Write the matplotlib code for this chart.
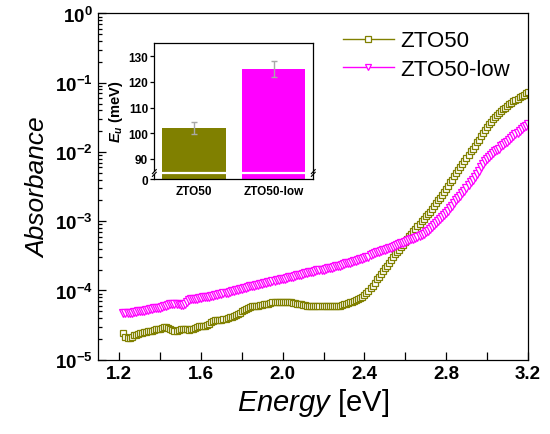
import numpy as np
import matplotlib
matplotlib.use("Agg")
import matplotlib.pyplot as plt
from matplotlib.ticker import FixedLocator, FuncFormatter, MultipleLocator, LogLocator, NullFormatter

plt.rcParams["font.family"] = ["Liberation Sans", "DejaVu Sans"]
plt.rcParams["mathtext.fontset"] = "custom"
plt.rcParams["mathtext.rm"] = "Liberation Sans"
plt.rcParams["mathtext.it"] = "Liberation Sans:italic"
plt.rcParams["mathtext.bf"] = "Liberation Sans:bold"
plt.rcParams["mathtext.bfit"] = "Liberation Sans:italic:bold"

# photon energy (eV)
energy = [1.22, 1.23, 1.24, 1.25, 1.26, 1.27, 1.28, 1.29, 1.30, 1.31,
          1.32, 1.33, 1.34, 1.35, 1.36, 1.37, 1.38, 1.39, 1.40, 1.41,
          1.42, 1.43, 1.44, 1.45, 1.46, 1.47, 1.48, 1.49, 1.50, 1.51,
          1.52, 1.53, 1.54, 1.55, 1.56, 1.57, 1.58, 1.59, 1.60, 1.61,
          1.62, 1.63, 1.64, 1.65, 1.66, 1.67, 1.68, 1.69, 1.70, 1.71,
          1.72, 1.73, 1.74, 1.75, 1.76, 1.77, 1.78, 1.79, 1.80, 1.81,
          1.82, 1.83, 1.84, 1.85, 1.86, 1.87, 1.88, 1.89, 1.90, 1.91,
          1.92, 1.93, 1.94, 1.95, 1.96, 1.97, 1.98, 1.99, 2.00, 2.01,
          2.02, 2.03, 2.04, 2.05, 2.06, 2.07, 2.08, 2.09, 2.10, 2.11,
          2.12, 2.13, 2.14, 2.15, 2.16, 2.17, 2.18, 2.19, 2.20, 2.21,
          2.22, 2.23, 2.24, 2.25, 2.26, 2.27, 2.28, 2.29, 2.30, 2.31,
          2.32, 2.33, 2.34, 2.35, 2.36, 2.37, 2.38, 2.39, 2.40, 2.41,
          2.42, 2.43, 2.44, 2.45, 2.46, 2.47, 2.48, 2.49, 2.50, 2.51,
          2.52, 2.53, 2.54, 2.55, 2.56, 2.57, 2.58, 2.59, 2.60, 2.61,
          2.62, 2.63, 2.64, 2.65, 2.66, 2.67, 2.68, 2.69, 2.70, 2.71,
          2.72, 2.73, 2.74, 2.75, 2.76, 2.77, 2.78, 2.79, 2.80, 2.81,
          2.82, 2.83, 2.84, 2.85, 2.86, 2.87, 2.88, 2.89, 2.90, 2.91,
          2.92, 2.93, 2.94, 2.95, 2.96, 2.97, 2.98, 2.99, 3.00, 3.01,
          3.02, 3.03, 3.04, 3.05, 3.06, 3.07, 3.08, 3.09, 3.10, 3.11,
          3.12, 3.13, 3.14, 3.15, 3.16, 3.17, 3.18, 3.19, 3.20]

# log10(absorbance)
log_zto50 = [-4.62, -4.67, -4.69, -4.68, -4.67, -4.65, -4.64, -4.63, -4.62, -4.61,
             -4.60, -4.60, -4.59, -4.58, -4.58, -4.57, -4.56, -4.56, -4.55, -4.54,
             -4.53, -4.53, -4.54, -4.56, -4.57, -4.58, -4.58, -4.57, -4.56, -4.55,
             -4.55, -4.56, -4.57, -4.56, -4.55, -4.54, -4.53, -4.52, -4.52, -4.52,
             -4.51, -4.50, -4.48, -4.46, -4.44, -4.43, -4.43, -4.42, -4.42, -4.41,
             -4.41, -4.40, -4.39, -4.38, -4.37, -4.36, -4.34, -4.32, -4.30, -4.28,
             -4.27, -4.25, -4.24, -4.23, -4.23, -4.22, -4.22, -4.21, -4.21, -4.20,
             -4.20, -4.19, -4.18, -4.17, -4.16, -4.16, -4.16, -4.16, -4.16, -4.16,
             -4.17, -4.17, -4.17, -4.18, -4.18, -4.19, -4.19, -4.20, -4.21, -4.21,
             -4.22, -4.22, -4.22, -4.23, -4.23, -4.23, -4.23, -4.23, -4.23, -4.23,
             -4.23, -4.23, -4.23, -4.23, -4.23, -4.23, -4.22, -4.21, -4.20, -4.19,
             -4.18, -4.17, -4.16, -4.15, -4.14, -4.13, -4.11, -4.09, -4.07, -4.04,
             -4.01, -3.97, -3.93, -3.89, -3.84, -3.80, -3.76, -3.72, -3.68, -3.64,
             -3.60, -3.56, -3.52, -3.48, -3.44, -3.41, -3.37, -3.34, -3.30, -3.26,
             -3.22, -3.18, -3.14, -3.11, -3.07, -3.04, -3.00, -2.97, -2.93, -2.90,
             -2.86, -2.82, -2.78, -2.74, -2.70, -2.66, -2.62, -2.58, -2.53, -2.49,
             -2.44, -2.40, -2.35, -2.31, -2.26, -2.22, -2.17, -2.13, -2.08, -2.04,
             -1.99, -1.95, -1.91, -1.86, -1.82, -1.77, -1.73, -1.68, -1.64, -1.60,
             -1.56, -1.53, -1.50, -1.47, -1.44, -1.41, -1.38, -1.36, -1.34, -1.31,
             -1.29, -1.27, -1.25, -1.23, -1.21, -1.19, -1.17, -1.15, -1.14]

log_zto50_low = [-4.32, -4.32, -4.32, -4.32, -4.32, -4.31, -4.31, -4.30, -4.30, -4.29,
                 -4.29, -4.28, -4.28, -4.27, -4.27, -4.26, -4.26, -4.25, -4.25, -4.24,
                 -4.23, -4.22, -4.21, -4.20, -4.20, -4.19, -4.19, -4.20, -4.21, -4.21,
                 -4.20, -4.16, -4.14, -4.13, -4.13, -4.12, -4.12, -4.11, -4.11, -4.10,
                 -4.10, -4.09, -4.09, -4.08, -4.08, -4.07, -4.06, -4.05, -4.05, -4.04,
                 -4.04, -4.03, -4.02, -4.01, -4.01, -4.00, -3.99, -3.98, -3.98, -3.97,
                 -3.96, -3.95, -3.94, -3.93, -3.93, -3.92, -3.92, -3.91, -3.90, -3.89,
                 -3.89, -3.88, -3.88, -3.87, -3.86, -3.85, -3.85, -3.84, -3.84, -3.83,
                 -3.82, -3.81, -3.81, -3.80, -3.79, -3.78, -3.78, -3.77, -3.76, -3.75,
                 -3.75, -3.74, -3.74, -3.73, -3.72, -3.71, -3.71, -3.70, -3.70, -3.69,
                 -3.68, -3.67, -3.67, -3.66, -3.65, -3.64, -3.64, -3.63, -3.62, -3.61,
                 -3.61, -3.60, -3.59, -3.58, -3.57, -3.56, -3.55, -3.54, -3.53, -3.52,
                 -3.51, -3.49, -3.48, -3.46, -3.45, -3.44, -3.43, -3.42, -3.41, -3.40,
                 -3.39, -3.38, -3.37, -3.36, -3.35, -3.33, -3.32, -3.31, -3.30, -3.28,
                 -3.27, -3.26, -3.25, -3.24, -3.23, -3.21, -3.20, -3.18, -3.16, -3.14,
                 -3.11, -3.09, -3.06, -3.03, -3.00, -2.97, -2.94, -2.91, -2.88, -2.85,
                 -2.81, -2.78, -2.74, -2.70, -2.66, -2.63, -2.59, -2.56, -2.52, -2.48,
                 -2.44, -2.40, -2.36, -2.32, -2.27, -2.22, -2.17, -2.13, -2.10, -2.07,
                 -2.04, -2.01, -1.99, -1.97, -1.95, -1.92, -1.90, -1.87, -1.85, -1.82,
                 -1.80, -1.77, -1.74, -1.72, -1.69, -1.67, -1.64, -1.62, -1.60]

# inset: Urbach energy
samples = ["ZTO50", "ZTO50-low"]
eu = [102.0, 125.0]
eu_err = [2.4, 3.1]

olive = "#808000"
magenta = "#ff00ff"

fig = plt.figure(figsize=(5.5, 4.35), dpi=100)
ax = fig.add_axes([0.1773, 0.1708, 0.7822, 0.7959])

ax.plot(energy, 10 ** np.array(log_zto50), "-s", color=olive, mfc="white",
        mec=olive, ms=5, mew=0.9, lw=1, label="ZTO50")
ax.plot(energy, 10 ** np.array(log_zto50_low), "-v", color=magenta, mfc="white",
        mec=magenta, ms=5.5, mew=0.9, lw=1, label="ZTO50-low")

ax.set_yscale("log")
ax.set_xlim(1.093, 3.2)
ax.set_ylim(1e-5, 1)
ax.xaxis.set_major_locator(MultipleLocator(0.4))
ax.xaxis.set_minor_locator(MultipleLocator(0.2))
ax.xaxis.set_major_formatter(FuncFormatter(lambda v, p: "%.1f" % v))
ax.yaxis.set_major_locator(LogLocator(base=10, numticks=10))
ax.yaxis.set_minor_locator(LogLocator(base=10, subs=np.arange(2, 10), numticks=20))
ax.yaxis.set_minor_formatter(NullFormatter())
ax.yaxis.set_major_formatter(FuncFormatter(
    lambda v, p: r"$\mathbf{10^{%d}}$" % round(np.log10(v))))
ax.tick_params(which="both", direction="in", top=False, right=False, width=0.9)
ax.tick_params(which="major", length=6, labelsize=13.5)
ax.tick_params(axis="x", which="minor", length=6)
ax.tick_params(axis="y", which="minor", length=3)
for lbl in ax.get_xticklabels():
    lbl.set_fontweight("bold")
for sp in ax.spines.values():
    sp.set_linewidth(0.9)

ax.set_xlabel(r"$\mathit{Energy}$ [eV]", fontsize=21, labelpad=3)
ax.set_ylabel("Absorbance", fontsize=19, style="italic", labelpad=3)

ax.legend(loc="upper right", bbox_to_anchor=(0.99, 0.99), frameon=False,
          fontsize=16, handlelength=2.3, handletextpad=0.3, labelspacing=0.35,
          markerscale=0.9, borderaxespad=0.2)

# inset bar chart with broken y axis
def fwd(y):
    y = np.asarray(y, dtype=float)
    return np.where(y >= 90, y - 90 + 7.8, y * 7.8 / 90)


def inv(m):
    m = np.asarray(m, dtype=float)
    return np.where(m >= 7.8, m + 90 - 7.8, m * 90 / 7.8)


ins = fig.add_axes([0.2806, 0.5862, 0.289, 0.312])
ins.set_yscale("function", functions=(fwd, inv))
x = np.arange(len(samples))
ins.bar(x, eu, width=0.8, color=[olive, magenta], zorder=2)
ins.errorbar(x, eu, yerr=eu_err, fmt="none", ecolor="#a8a8a8", elinewidth=1,
             capsize=2.5, capthick=1, zorder=3)
ins.axhline(27, color="white", lw=1.6, zorder=4)
ins.set_xlim(-0.5, 1.5)
ins.set_ylim(0, 135)
ins.yaxis.set_major_locator(FixedLocator([0, 90, 100, 110, 120, 130]))
ins.yaxis.set_major_formatter(FuncFormatter(lambda v, p: "%d" % round(v)))
ins.set_xticks(x)
ins.set_xticklabels(samples)
ins.tick_params(axis="y", direction="out", length=3, width=0.9, labelsize=8.5, pad=1.5)
ins.tick_params(axis="x", length=0, labelsize=8.5, pad=4)
for lbl in ins.get_xticklabels() + ins.get_yticklabels():
    lbl.set_fontweight("bold")
for sp in ins.spines.values():
    sp.set_linewidth(0.9)
ins.set_ylabel(r"$\mathbfit{E_u}$ (meV)", fontsize=10.5, fontweight="bold", labelpad=2)

# break marks on the spines
brk = 0.0445
for xb in (0, 1):
    ins.plot([xb - 0.012, xb + 0.012], [brk - 0.025, brk + 0.005], transform=ins.transAxes,
             color="black", lw=0.8, clip_on=False, zorder=5)
    ins.plot([xb - 0.012, xb + 0.012], [brk - 0.005, brk + 0.025], transform=ins.transAxes,
             color="black", lw=0.8, clip_on=False, zorder=5)

fig.savefig("out.png", dpi=100)
